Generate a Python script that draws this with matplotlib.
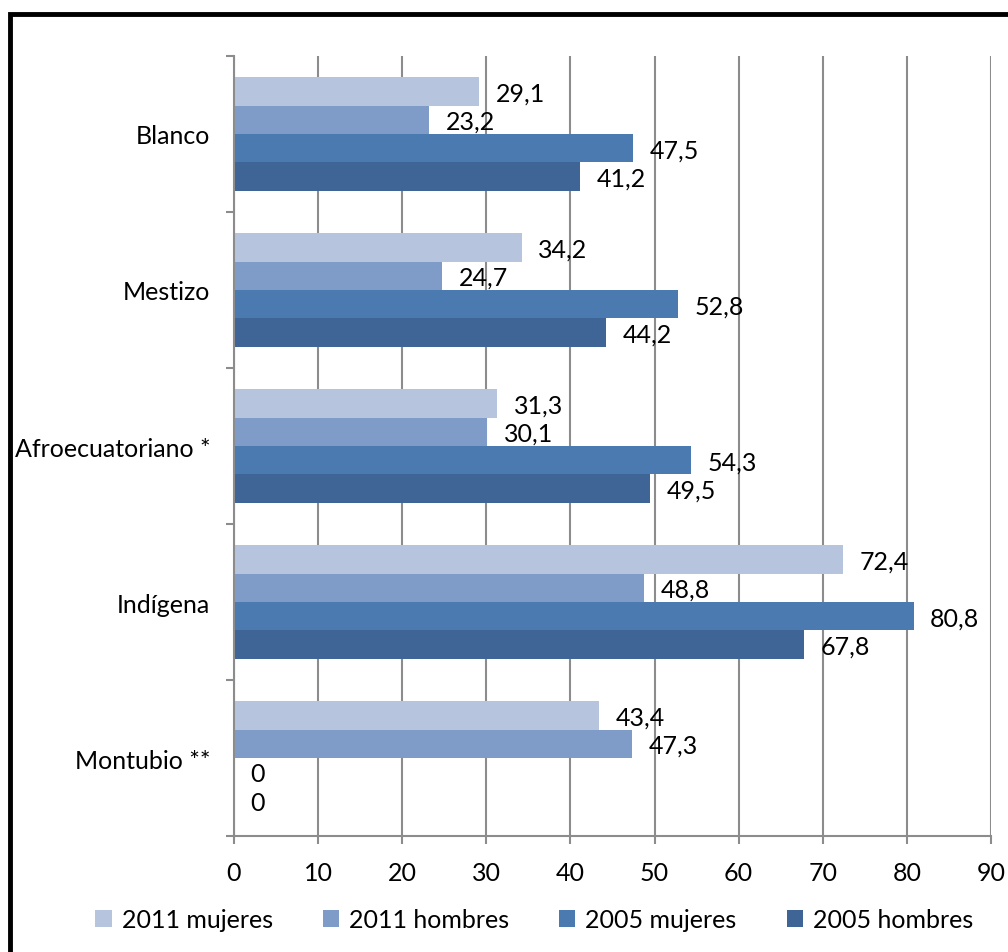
import matplotlib

matplotlib.use("Agg")
import matplotlib.pyplot as plt  # noqa: E402
import numpy as np  # noqa: E402
from matplotlib.patches import Rectangle  # noqa: E402

categories = ["Blanco", "Mestizo", "Afroecuatoriano *", "Indígena", "Montubio **"]
series_names = ["2011 mujeres", "2011 hombres", "2005 mujeres", "2005 hombres"]
mujeres_2011 = [29.1, 34.2, 31.3, 72.4, 43.4]
hombres_2011 = [23.2, 24.7, 30.1, 48.8, 47.3]
mujeres_2005 = [47.5, 52.8, 54.3, 80.8, 0]
hombres_2005 = [41.2, 44.2, 49.5, 67.8, 0]
x_ticks = [0, 10, 20, 30, 40, 50, 60, 70, 80, 90]

colors = ["#b7c4de", "#7f9cc9", "#4a7ab0", "#3e6596"]
grid_color = "#8c8c8c"

plt.rcParams["font.family"] = ["Lato", "DejaVu Sans"]

fig = plt.figure(figsize=(10.08, 9.53), dpi=100)
ax = fig.add_axes([0.2321, 0.1217, 0.9831 - 0.2321, 0.9402 - 0.1217])

series = [mujeres_2011, hombres_2011, mujeres_2005, hombres_2005]
n = len(series)
bar_h = 0.73 / n
y_pos = np.arange(len(categories))

for k, (vals, name, col) in enumerate(zip(series, series_names, colors)):
    offs = (k - (n - 1) / 2) * bar_h
    ys = y_pos + offs
    ax.barh(ys, vals, height=bar_h, color=col, label=name, zorder=3)
    for y, v in zip(ys, vals):
        txt = f"{v:g}".replace(".", ",")
        ax.annotate(txt, (v, y), xytext=(12, -1), textcoords="offset points",
                    ha="left", va="center", fontsize=18, color="#000000", zorder=4)

ax.set_ylim(len(categories) - 0.5, -0.5)
ax.set_xlim(0, 90)
ax.set_xticks(x_ticks)
ax.set_xticklabels([str(t) for t in x_ticks], fontsize=18)
ax.set_yticks(y_pos)
ax.set_yticklabels(categories, fontsize=18)
ax.set_yticks(np.arange(len(categories) + 1) - 0.5, minor=True)
ax.tick_params(axis="y", which="major", length=0, pad=17)
ax.tick_params(axis="y", which="minor", length=6, width=1.5, color=grid_color, direction="out")
ax.tick_params(axis="x", which="major", length=6, width=1.5, color=grid_color, pad=12)

ax.grid(axis="x", color=grid_color, linewidth=1.5, zorder=0)
for side in ["top", "right"]:
    ax.spines[side].set_visible(False)
for side in ["left", "bottom"]:
    ax.spines[side].set_color(grid_color)
    ax.spines[side].set_linewidth(1.5)
    ax.spines[side].set_zorder(5)

handles, labels = ax.get_legend_handles_labels()
fig.legend(handles, labels, loc="center", bbox_to_anchor=(0.53, 0.034), ncol=4,
           frameon=False, fontsize=18, handlelength=0.65, handleheight=0.65,
           handletextpad=0.4, columnspacing=2.0)

# thick black frame around the chart (cut off at right/bottom edges)
fig.patches.append(Rectangle((0.0095, -0.2), 1.2, 0.984 + 0.2, transform=fig.transFigure,
                             fill=False, edgecolor="black", linewidth=3.5))

fig.savefig("out.png", dpi=100)
plt.close(fig)
